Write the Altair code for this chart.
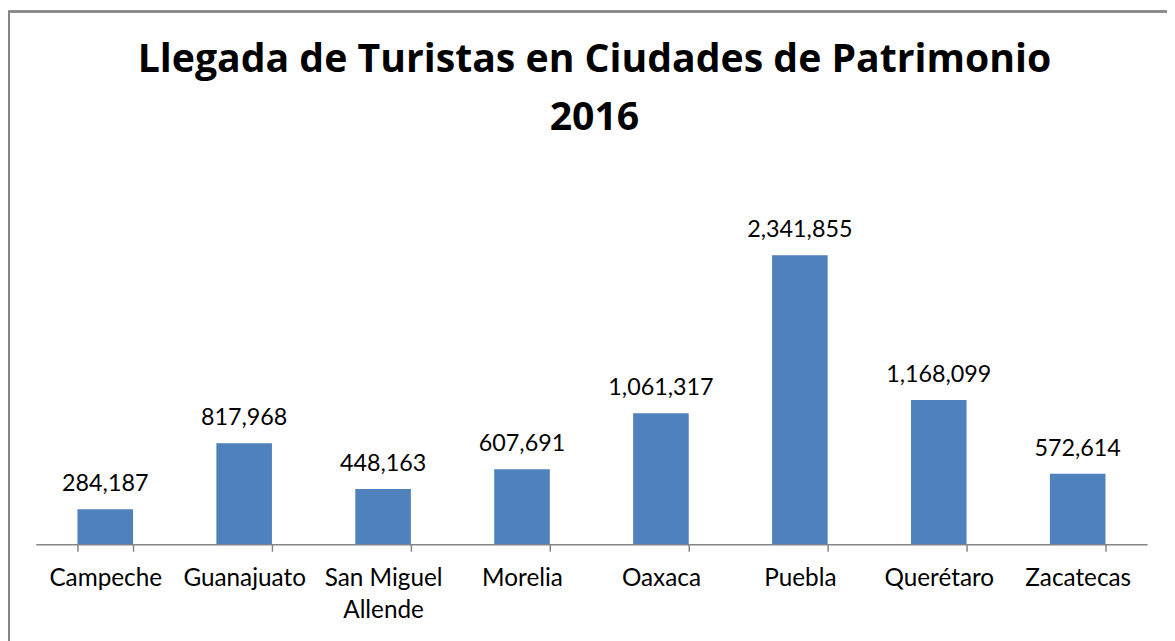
import altair as alt
import pandas as pd

ciudades = ["Campeche", "Guanajuato", "San Miguel Allende", "Morelia", "Oaxaca",
            "Puebla", "Querétaro", "Zacatecas"]
llegadas = [284187, 817968, 448163, 607691, 1061317, 2341855, 1168099, 572614]
titulo = ["Llegada de Turistas en Ciudades de Patrimonio", "2016"]

df = pd.DataFrame({"ciudad": ciudades, "llegadas": llegadas})

FONT = "Lato"
GRAY = "#868686"

x_enc = alt.X(
    "ciudad:N", sort=ciudades, title=None,
    scale=alt.Scale(paddingInner=0.6, paddingOuter=0.3),
    axis=alt.Axis(
        labelAngle=0, labelFont=FONT, labelFontSize=24.5, labelColor="#000000",
        labelPadding=16, tickSize=7, tickColor=GRAY, domainColor=GRAY,
        tickWidth=1.5, domainWidth=1.5, tickBand="extent",
        labelExpr="datum.label == 'San Miguel Allende' ? ['San Miguel', 'Allende'] : datum.label",
        labelLineHeight=32,
    ),
)
y_enc = alt.Y("llegadas:Q", scale=alt.Scale(domain=[0, 2500000]), axis=None)

bars = alt.Chart(df).mark_bar(color="#4F81BD").encode(x=x_enc, y=y_enc)

labels = alt.Chart(df).mark_text(
    font=FONT, fontSize=23.5, color="#000000", baseline="alphabetic", dy=-18
).encode(x=x_enc, y=y_enc, text=alt.Text("llegadas:Q", format=","))

border = alt.Chart(df).mark_rect(
    fill=None, stroke=GRAY, strokeWidth=1.5
).encode(
    x=alt.value(-27), y=alt.value(-226), x2=alt.value(1300), y2=alt.value(600)
)

title = alt.Chart(pd.DataFrame({"t": [titulo]})).mark_text(
    font="Open Sans", fontSize=39.5, fontWeight="bold", color="#000000",
    baseline="alphabetic", align="center", lineHeight=58
).encode(text="t", x=alt.value(563), y=alt.value(-165))

chart = alt.layer(border, bars, labels, title).properties(
    width=1120, height=311,
    autosize=alt.AutoSizeParams(type="none"),
    padding={"left": 28, "top": 227, "right": 20, "bottom": 100},
).configure_view(stroke=None)

chart.save("out.html", embed_options={"renderer": "svg", "actions": False})
